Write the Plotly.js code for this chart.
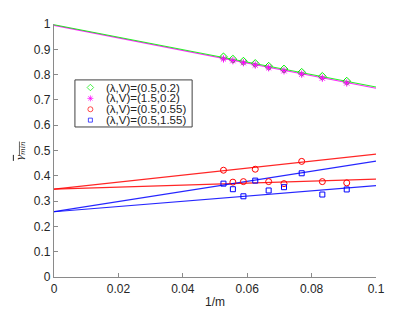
<!DOCTYPE html>
<html>
<head>
<meta charset="utf-8">
<script src="https://cdn.plot.ly/plotly-3.0.1.min.js"></script>
<style>html,body{margin:0;padding:0;background:#fff;}#chart{width:415px;height:312px;}</style>
</head>
<body>
<div id="chart"></div>
<script>
// ---- data ----
const mValues = [19, 18, 17, 16, 15, 14, 13, 12, 11];           // x = 1/m
const greenPts   = [0.870, 0.861, 0.853, 0.844, 0.833, 0.822, 0.809, 0.793, 0.774];
const magentaPts = [0.862, 0.855, 0.847, 0.838, 0.827, 0.815, 0.802, 0.786, 0.767];
const redPts     = [0.422, 0.375, 0.377, 0.426, 0.377, 0.369, 0.457, 0.377, 0.372];
const bluePts    = [0.369, 0.347, 0.319, 0.381, 0.342, 0.355, 0.410, 0.326, 0.346];

const fitX        = [0, 0.1];
const greenFit    = [0.997, 0.751];
const magentaFit  = [0.995, 0.746];
const redFitA     = [0.347, 0.486];
const redFitB     = [0.347, 0.387];
const blueFitA    = [0.258, 0.458];
const blueFitB    = [0.258, 0.361];

const seriesNames = ['(λ,V)=(0.5,0.2)', '(λ,V)=(1.5,0.2)', '(λ,V)=(0.5,0.55)', '(λ,V)=(0.5,1.55)'];
const xTicks = [0, 0.02, 0.04, 0.06, 0.08, 0.1];
const xTickText = ['0', '0.02', '0.04', '0.06', '0.08', '0.1'];
const yTicks = [0, 0.1, 0.2, 0.3, 0.4, 0.5, 0.6, 0.7, 0.8, 0.9, 1];
const yTickText = ['0', '0.1', '0.2', '0.3', '0.4', '0.5', '0.6', '0.7', '0.8', '0.9', '1'];
const yTitle = '<span style="text-decoration:overline"><i>γ<sub>min</sub></i></span>';

// ---- styles ----
const colors  = ['#00ee00', '#ff00ff', '#ff0000', '#0000ff'];
const symbols = ['diamond-open', 'asterisk-open', 'circle-open', 'square-open'];
const sizes   = [6, 6, 6, 5];
const FONT = 'Liberation Sans, Arial, Helvetica, sans-serif';

const invM = mValues.map(m => 1 / m);
const pointSets = [greenPts, magentaPts, redPts, bluePts];

const traces = [];
// fit lines
[[magentaFit, 1], [greenFit, 0], [redFitA, 2], [redFitB, 2], [blueFitA, 3], [blueFitB, 3]].forEach(([ys, ci]) => {
  traces.push({x: fitX, y: ys, mode: 'lines', line: {color: colors[ci], width: 1.2}, opacity: 0.85, showlegend: false, hoverinfo: 'skip'});
});
// markers
pointSets.forEach((ys, i) => {
  traces.push({x: invM, y: ys, mode: 'markers', name: seriesNames[i], showlegend: false,
    marker: {symbol: symbols[i], size: sizes[i], color: colors[i], line: {color: colors[i], width: 1}}});
});

// custom compact legend (markers on hidden overlay axes in paper-like units)
const legX = 0.113, legTextX = 0.154, legRow0 = 0.749, legStep = 0.043;
const legY = seriesNames.map((_, i) => legRow0 - i * legStep);
traces.push({x: seriesNames.map(() => legX), y: legY, xaxis: 'x2', yaxis: 'y2', mode: 'markers', showlegend: false, hoverinfo: 'skip',
  marker: {symbol: symbols, size: sizes.map(s => s - 1), color: colors, line: {color: colors, width: 1}}});

const annotations = seriesNames.map((t, i) => ({
  xref: 'paper', yref: 'paper', x: legTextX, y: legY[i], xanchor: 'left', yanchor: 'middle',
  text: t, showarrow: false, font: {family: FONT, size: 11.5, color: '#222'}
}));
annotations.push({xref: 'paper', yref: 'paper', x: -0.106, y: 0.498, xanchor: 'center', yanchor: 'middle',
  textangle: -90, text: yTitle, showarrow: false, font: {family: 'DejaVu Serif, serif', size: 10, color: '#262626'}});

const axisCommon = {
  showline: true, linecolor: '#8a8a8a', linewidth: 1.2, mirror: false,
  ticks: 'inside', ticklen: 4, tickcolor: '#8a8a8a', tickwidth: 1,
  showgrid: false, zeroline: false, tickfont: {family: FONT, size: 12, color: '#262626'},
  automargin: false, fixedrange: true
};

const layout = {
  width: 415, height: 312,
  margin: {l: 54, r: 39, t: 24, b: 35},
  paper_bgcolor: '#ffffff', plot_bgcolor: '#ffffff',
  showlegend: false,
  xaxis: Object.assign({}, axisCommon, {range: [0, 0.1], tickmode: 'array', tickvals: xTicks, ticktext: xTickText,
    title: {text: '1/m', font: {family: FONT, size: 12, color: '#262626'}, standoff: 3}}),
  yaxis: Object.assign({}, axisCommon, {range: [0, 1], tickmode: 'array', tickvals: yTicks, ticktext: yTickText}),
  xaxis2: {overlaying: 'x', range: [0, 1], visible: false, anchor: 'y2', fixedrange: true},
  yaxis2: {overlaying: 'y', range: [0, 1], visible: false, anchor: 'x2', fixedrange: true},
  shapes: [{type: 'rect', xref: 'paper', yref: 'paper', x0: 0.065, x1: 0.429, y0: 0.593, y1: 0.779,
    line: {color: '#404040', width: 1}, fillcolor: '#ffffff', layer: 'below'}],
  annotations: annotations
};

Plotly.newPlot('chart', traces, layout, {staticPlot: true, displayModeBar: false});
</script>
</body>
</html>
